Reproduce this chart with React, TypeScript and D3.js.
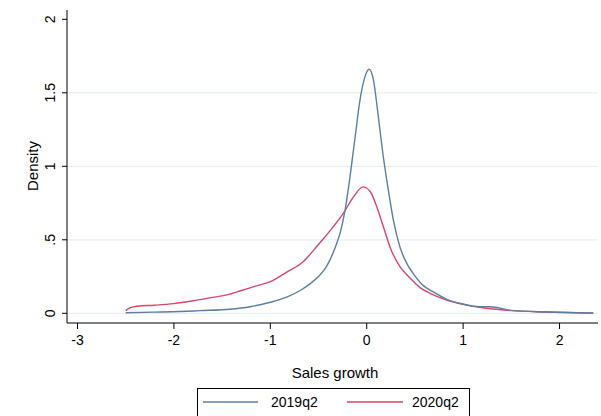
import React from "react";
import * as d3 from "d3";

// Kernel density estimates of sales growth
const growth2019 = [
  -2.5, -2.2, -1.94, -1.73, -1.42, -1.21, -1.0, -0.83, -0.69, -0.6, -0.5, -0.43, -0.38,
  -0.32, -0.277, -0.225, -0.173, -0.12, -0.07, -0.018, 0.024, 0.069, 0.12, 0.172, 0.224,
  0.276, 0.345, 0.415, 0.483, 0.584, 0.687, 0.83, 1.0, 1.17, 1.28, 1.5, 1.86, 2.35,
];
const density2019 = [
  0.004, 0.008, 0.012, 0.018, 0.028, 0.045, 0.075, 0.11, 0.155, 0.195, 0.25, 0.305, 0.365,
  0.46, 0.544, 0.7, 0.93, 1.2, 1.45, 1.61, 1.66, 1.59, 1.34, 1.065, 0.84,
  0.635, 0.45, 0.34, 0.27, 0.19, 0.147, 0.095, 0.063, 0.045, 0.045, 0.02, 0.009, 0.002,
];
const growth2020 = [
  -2.5, -2.45, -2.38, -2.2, -2.0, -1.8, -1.6, -1.45, -1.3, -1.18, -1.0, -0.83, -0.66,
  -0.55, -0.485, -0.346, -0.243, -0.139, -0.04, 0.034, 0.104, 0.172, 0.242, 0.345,
  0.449, 0.553, 0.657, 0.83, 1.0, 1.17, 1.5, 1.86, 2.35,
];
const density2020 = [
  0.018, 0.038, 0.048, 0.055, 0.066, 0.085, 0.108, 0.125, 0.155, 0.18, 0.215, 0.28, 0.35,
  0.43, 0.48, 0.59, 0.68, 0.79, 0.86, 0.83, 0.725, 0.59, 0.45, 0.317,
  0.24, 0.175, 0.136, 0.09, 0.061, 0.041, 0.018, 0.009, 0.001,
];
const seriesNames = ["2019q2", "2020q2"];
const xTicks = [-3, -2, -1, 0, 1, 2];
const yTicks = [0, 0.5, 1, 1.5, 2];
const yTickLabels = ["0", ".5", "1", "1.5", "2"];

const W = 601;
const H = 416;
const FONT = "'Liberation Sans', Arial, Helvetica, sans-serif";
const BLUE = "#5b7ea4";
const RED = "#d8466c";
const GRID = "#e8f0f1";

export default function App() {
  const x = d3.scaleLinear().domain([-3, 2.4]).range([77.5, 598.1]);
  const y = d3.scaleLinear().domain([0, 2]).range([313.3, 19.3]);
  const axisLeft = 67;
  const axisBottom = 323;
  const plotRight = 598;

  const line = d3
    .line<[number, number]>()
    .x((d) => x(d[0]))
    .y((d) => y(d[1]))
    .curve(d3.curveMonotoneX);

  const s2019 = growth2019.map((g, i) => [g, density2019[i]] as [number, number]);
  const s2020 = growth2020.map((g, i) => [g, density2020[i]] as [number, number]);

  return (
    <svg
      width={W}
      height={H}
      style={{ position: "absolute", left: 0, top: 0, background: "#fff" }}
      fontFamily={FONT}
    >
      {/* horizontal grid lines */}
      {yTicks
        .filter((t) => t < 2)
        .map((t) => (
          <line key={"g" + t} x1={axisLeft} x2={plotRight} y1={y(t)} y2={y(t)} stroke={GRID} strokeWidth={1.2} />
        ))}

      {/* density curves */}
      <path d={line(s2020) || ""} fill="none" stroke={RED} strokeWidth={1.4} />
      <path d={line(s2019) || ""} fill="none" stroke={BLUE} strokeWidth={1.4} />

      {/* y axis */}
      <line x1={axisLeft} x2={axisLeft} y1={10} y2={axisBottom} stroke="#000" strokeWidth={1} />
      {yTicks.map((t, i) => (
        <g key={"y" + t}>
          <line x1={axisLeft - 5} x2={axisLeft} y1={y(t)} y2={y(t)} stroke="#000" strokeWidth={1} />
          <text
            transform={`translate(${55},${y(t)}) rotate(-90)`}
            textAnchor="middle"
            fontSize={14}
            fill="#000"
          >
            {yTickLabels[i]}
          </text>
        </g>
      ))}
      <text transform={`translate(38,166) rotate(-90)`} textAnchor="middle" fontSize={15} fill="#000">
        Density
      </text>

      {/* x axis */}
      <line x1={axisLeft} x2={plotRight} y1={axisBottom} y2={axisBottom} stroke="#000" strokeWidth={1} />
      {xTicks.map((t) => (
        <g key={"x" + t}>
          <line x1={x(t)} x2={x(t)} y1={axisBottom} y2={axisBottom + 6} stroke="#000" strokeWidth={1} />
          <text x={x(t)} y={345} textAnchor="middle" fontSize={14} fill="#000">
            {t}
          </text>
        </g>
      ))}
      <text x={335} y={378} textAnchor="middle" fontSize={15} fill="#000">
        Sales growth
      </text>

      {/* legend */}
      <rect x={197.5} y={388.5} width={272} height={40} fill="#fff" stroke="#000" strokeWidth={1} />
      <line x1={203} x2={258} y1={402} y2={402} stroke={BLUE} strokeWidth={1.4} />
      <text x={271} y={407} fontSize={14} fill="#000">
        {seriesNames[0]}
      </text>
      <line x1={347} x2={403} y1={402} y2={402} stroke={RED} strokeWidth={1.4} />
      <text x={412} y={407} fontSize={14} fill="#000">
        {seriesNames[1]}
      </text>
    </svg>
  );
}
